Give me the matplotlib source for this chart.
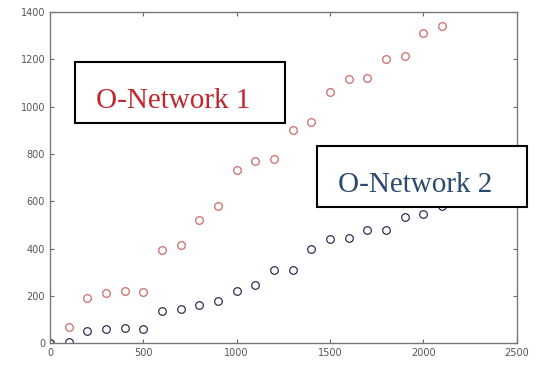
import matplotlib.pyplot as plt
from matplotlib.patches import Rectangle

# Sample sizes and values for the two networks
x = [0, 100, 200, 300, 400, 500, 600, 700, 800, 900, 1000,
     1100, 1200, 1300, 1400, 1500, 1600, 1700, 1800, 1900, 2000, 2100]
net1 = [0, 70, 190, 210, 220, 215, 395, 415, 520, 580, 730,
        770, 780, 900, 935, 1060, 1115, 1120, 1200, 1215, 1310, 1340]
net2 = [0, 5, 50, 60, 65, 60, 135, 145, 160, 180, 220,
        245, 310, 310, 400, 440, 445, 480, 480, 535, 545, 580]

fig = plt.figure(figsize=(5.4, 3.65), dpi=100)
ax = fig.add_axes([0.0926, 0.060, 0.864, 0.907])

ax.plot(x, net1, 'o', mfc='none', mec='#cc6a6a', ms=5.5, mew=0.9)
ax.plot(x, net2, 'o', mfc='none', mec='#2e3350', ms=5.5, mew=0.9)

ax.set_xlim(0, 2500)
ax.set_ylim(0, 1400)
ax.set_xticks(range(0, 2501, 500))
ax.set_yticks(range(0, 1401, 200))
ax.tick_params(direction='in', top=True, right=True, length=3,
               labelsize=7, colors='#666666', labelcolor='#555555')
for s in ax.spines.values():
    s.set_color('#777777')
    s.set_linewidth(1.0)

# Label boxes in figure pixels
W, H = 540, 365
for (x0, y0, x1, y1), label, col in [((75, 62, 285, 123), 'O-Network 1', '#c0282d'),
                                      ((317, 146, 527, 207), 'O-Network 2', '#2c4a6e')]:
    fig.patches.append(Rectangle((x0 / W, 1 - y1 / H), (x1 - x0) / W, (y1 - y0) / H,
                                 transform=fig.transFigure, fill=True, fc='white',
                                 ec='black', lw=1.5, zorder=5))
    fig.text((x0 + 21) / W, 1 - ((y0 + y1) / 2 + 9) / H, label, color=col,
             family='Liberation Serif', fontsize=21, va='center', ha='left', zorder=6)

plt.savefig('out.png', dpi=100)
